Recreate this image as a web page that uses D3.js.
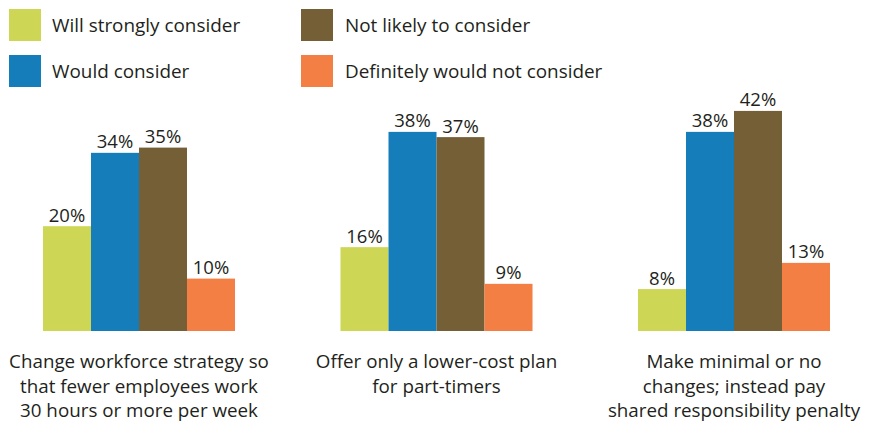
<!DOCTYPE html>
<html>
<head>
<meta charset="utf-8">
<script src="https://cdn.jsdelivr.net/npm/d3@7"></script>
<style>
  body { margin: 0; background: #fff; }
  text { font-family: "Open Sans", "Noto Sans", sans-serif; fill: #231f20; }
</style>
</head>
<body>
<div id="chart"></div>
<script>
// --- data ---
const categories = [
  ["Change workforce strategy so", "that fewer employees work", "30 hours or more per week"],
  ["Offer only a lower-cost plan", "for part-timers"],
  ["Make minimal or no", "changes; instead pay", "shared responsibility penalty"]
];
const seriesNames = ["Will strongly consider", "Would consider", "Not likely to consider", "Definitely would not consider"];
const seriesColors = ["#cdd655", "#147dba", "#745f36", "#f47f45"];
const values = [
  [20, 34, 35, 10],
  [16, 38, 37, 9],
  [8, 38, 42, 13]
];

const width = 874, height = 423;
const svg = d3.select("#chart").append("svg")
  .attr("width", width).attr("height", height);

// --- scales ---
const x0 = d3.scaleBand()
  .domain(d3.range(categories.length))
  .range([43, 830])
  .paddingInner(0.3546)
  .paddingOuter(0);

const x1 = d3.scaleBand()
  .domain(d3.range(seriesNames.length))
  .range([0, x0.bandwidth()])
  .padding(0);

const y = d3.scaleLinear().domain([0, 40]).range([331, 121.4]);

const color = d3.scaleOrdinal().domain(d3.range(seriesNames.length)).range(seriesColors);

// --- legend (two columns, two rows) ---
const legend = svg.append("g");
seriesNames.forEach((name, i) => {
  const col = Math.floor(i / 2), row = i % 2;
  const g = legend.append("g")
    .attr("transform", `translate(${col === 0 ? 9 : 301},${row === 0 ? 9 : 55})`);
  g.append("rect").attr("width", 32).attr("height", 32).attr("fill", color(i));
  g.append("text").attr("x", col === 0 ? 43 : 44).attr("y", 23)
    .style("font-size", "18.9px").text(name);
});

// --- bars ---
const groups = svg.selectAll("g.grp")
  .data(values)
  .join("g")
  .attr("class", "grp")
  .attr("transform", (d, i) => `translate(${x0(i)},0)`);

groups.selectAll("rect")
  .data(d => d)
  .join("rect")
  .attr("x", (d, j) => x1(j))
  .attr("y", d => y(d))
  .attr("width", x1.bandwidth())
  .attr("height", d => y(0) - y(d))
  .attr("fill", (d, j) => color(j));

groups.selectAll("text.val")
  .data(d => d)
  .join("text")
  .attr("class", "val")
  .attr("x", (d, j) => x1(j) + x1.bandwidth() / 2)
  .attr("y", d => y(d) - 4.5)
  .attr("text-anchor", "middle")
  .style("font-size", "18.5px")
  .text(d => d + "%");

// --- category labels ---
svg.selectAll("text.cat")
  .data(categories)
  .join("text")
  .attr("class", "cat")
  .attr("text-anchor", "middle")
  .style("font-size", "18.8px")
  .each(function(lines, i) {
    d3.select(this).selectAll("tspan")
      .data(lines)
      .join("tspan")
      .attr("x", x0(i) + x0.bandwidth() / 2)
      .attr("y", (l, k) => 368 + k * 24.5)
      .text(l => l);
  });
</script>
</body>
</html>
